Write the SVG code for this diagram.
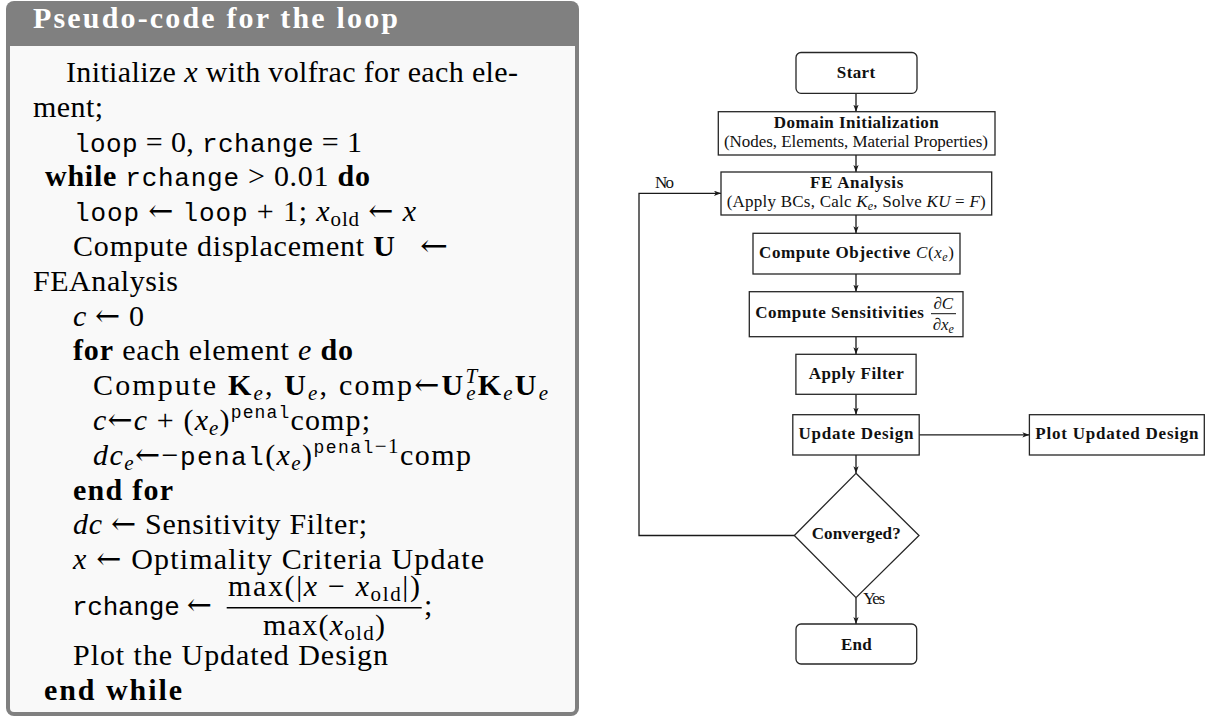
<svg xmlns="http://www.w3.org/2000/svg" width="1209" height="718" viewBox="0 0 1209 718">
<style>
  .rm{font-family:"Liberation Serif","DejaVu Serif",serif;fill:#000}
  .body{font-size:30px}
  .b{font-weight:bold}
  .i{font-style:italic}
  .ar{font-family:"DejaVu Serif",serif;font-style:normal;font-weight:normal}
  .tt{font-family:"Liberation Mono","DejaVu Sans Mono",monospace;font-size:26px}
  .sub{font-size:21px}
  .ttsup{font-family:"Liberation Mono","DejaVu Sans Mono",monospace;font-size:18px}
  .title{font-family:"Liberation Serif","DejaVu Serif",serif;font-size:30px;font-weight:bold;fill:#fff}
  .node{fill:#fff;stroke:#262626;stroke-width:1.3}
  .conn{fill:none;stroke:#1a1a1a;stroke-width:1.3}
  .arr{marker-end:url(#ah)}
  .fc{font-family:"Liberation Serif","DejaVu Serif",serif;font-size:17px;fill:#111}
  .fcs{font-size:12px}
</style>
<defs>
  <marker id="ah" viewBox="0 0 8 6" refX="8" refY="3" markerWidth="7" markerHeight="5.5" orient="auto" markerUnits="userSpaceOnUse">
    <path d="M0,0 L8,3 L0,6 L2,3 z" fill="#1a1a1a"/>
  </marker>
</defs>
<rect width="1209" height="718" fill="#fff"/>

<!-- Left pseudo-code box -->
<g id="pseudocode">
  <rect x="6" y="1" width="573" height="715" rx="8" fill="#808080"/>
  <path d="M10,46 H575 V708 A4,4 0 0 1 571,712 H14 A4,4 0 0 1 10,708 Z" fill="#f9f9f9"/>
  <text class="title" x="33" y="28" textLength="365" lengthAdjust="spacing">Pseudo-code for the loop</text>

  <text class="rm body" x="66" y="82" textLength="452" lengthAdjust="spacing">Initialize <tspan class="i">x</tspan> with volfrac for each ele-</text>
  <text class="rm body" x="33" y="116.8" textLength="70" lengthAdjust="spacing">ment;</text>
  <text class="rm body" x="74" y="151.6" textLength="288" lengthAdjust="spacing"><tspan class="tt">loop</tspan> = 0, <tspan class="tt">rchange</tspan> = 1</text>
  <text class="rm body" x="45" y="186.4" textLength="325" lengthAdjust="spacing"><tspan class="b">while</tspan> <tspan class="tt">rchange</tspan> &gt; 0.01 <tspan class="b">do</tspan></text>
  <text class="rm body" x="74" y="221.2" textLength="342" lengthAdjust="spacing"><tspan class="tt">loop</tspan> <tspan class="ar">←</tspan> <tspan class="tt">loop</tspan> + 1; <tspan class="i">x</tspan><tspan class="sub" dy="5">old</tspan><tspan dy="-5"> </tspan><tspan class="ar">←</tspan> <tspan class="i">x</tspan></text>
  <text class="rm body" x="73" y="256" textLength="322" lengthAdjust="spacing">Compute displacement <tspan class="b">U</tspan></text>
  <text class="rm body ar" x="420" y="256" textLength="28" lengthAdjust="spacingAndGlyphs">←</text>
  <text class="rm body" x="33" y="290.8" textLength="145" lengthAdjust="spacing">FEAnalysis</text>
  <text class="rm body" x="73" y="325.6" textLength="71" lengthAdjust="spacing"><tspan class="i">c</tspan> <tspan class="ar">←</tspan> 0</text>
  <text class="rm body" x="73" y="360.4" textLength="280" lengthAdjust="spacing"><tspan class="b">for</tspan> each element <tspan class="i">e</tspan> <tspan class="b">do</tspan></text>
  <text class="rm body" x="93" y="395.2" textLength="455" lengthAdjust="spacing">Compute <tspan class="b">K</tspan><tspan class="i sub" dy="5">e</tspan><tspan dy="-5">, </tspan><tspan class="b">U</tspan><tspan class="i sub" dy="5">e</tspan><tspan dy="-5">, comp</tspan><tspan class="ar">←</tspan><tspan class="b">U</tspan><tspan class="i sub" dy="-12">T</tspan><tspan class="i sub" dx="-11" dy="17">e</tspan><tspan class="b" dy="-5">K</tspan><tspan class="i sub" dy="5">e</tspan><tspan class="b" dy="-5">U</tspan><tspan class="i sub" dy="5">e</tspan></text>
  <text class="rm body" x="93" y="430" textLength="277" lengthAdjust="spacing"><tspan class="i">c</tspan><tspan class="ar">←</tspan><tspan class="i">c</tspan> + (<tspan class="i">x</tspan><tspan class="i sub" dy="5">e</tspan><tspan dy="-5">)</tspan><tspan class="ttsup" dy="-12">penal</tspan><tspan dy="12">comp;</tspan></text>
  <text class="rm body" x="93" y="464.8" textLength="378" lengthAdjust="spacing"><tspan class="i">dc</tspan><tspan class="i sub" dy="5">e</tspan><tspan class="ar" dy="-5">←</tspan>−<tspan class="tt">penal</tspan>(<tspan class="i">x</tspan><tspan class="i sub" dy="5">e</tspan><tspan dy="-5">)</tspan><tspan class="ttsup" dy="-12">penal</tspan><tspan class="sub">−1</tspan><tspan dy="12">comp</tspan></text>
  <text class="rm body b" x="73" y="499.6" textLength="100" lengthAdjust="spacing">end for</text>
  <text class="rm body" x="73" y="534.4" textLength="294" lengthAdjust="spacing"><tspan class="i">dc</tspan> <tspan class="ar">←</tspan> Sensitivity Filter;</text>
  <text class="rm body" x="73" y="569.2" textLength="411" lengthAdjust="spacing"><tspan class="i">x</tspan> <tspan class="ar">←</tspan> Optimality Criteria Update</text>
  <text class="rm body" x="72" y="615" textLength="140" lengthAdjust="spacing"><tspan class="tt">rchange</tspan> <tspan class="ar">←</tspan></text>
  <text class="rm body" x="228" y="596" textLength="192" lengthAdjust="spacing">max(|<tspan class="i">x</tspan> − <tspan class="i">x</tspan><tspan class="sub" dy="5">old</tspan><tspan dy="-5">|)</tspan></text>
  <line x1="226.7" y1="607.7" x2="421.7" y2="607.7" stroke="#000" stroke-width="1.4"/>
  <text class="rm body" x="263" y="635" textLength="122" lengthAdjust="spacing">max(<tspan class="i">x</tspan><tspan class="sub" dy="5">old</tspan><tspan dy="-5">)</tspan></text>
  <text class="rm body" x="424" y="615">;</text>
  <text class="rm body" x="73" y="664.7" textLength="315" lengthAdjust="spacing">Plot the Updated Design</text>
  <text class="rm body b" x="44" y="699.5" textLength="138" lengthAdjust="spacing">end while</text>
</g>

<!-- Connectors -->
<g id="connectors">
  <line class="conn arr" x1="856" y1="93.3" x2="856" y2="111.7"/>
  <line class="conn arr" x1="856" y1="155" x2="856" y2="172"/>
  <line class="conn arr" x1="856" y1="215" x2="856" y2="233.3"/>
  <line class="conn arr" x1="856" y1="274" x2="856" y2="291.7"/>
  <line class="conn arr" x1="856" y1="336.7" x2="856" y2="354.3"/>
  <line class="conn arr" x1="856" y1="394.3" x2="856" y2="414.7"/>
  <line class="conn arr" x1="856" y1="455" x2="856" y2="473.3"/>
  <line class="conn arr" x1="856" y1="597.7" x2="856" y2="624"/>
  <line class="conn arr" x1="919.2" y1="434.8" x2="1029.4" y2="434.8"/>
  <polyline class="conn arr" points="794.3,535.5 639,535.5 639,193.3 721,193.3"/>
  <text class="fc" x="655" y="188.3" font-size="15.5" textLength="19" lengthAdjust="spacing">No</text>
  <text class="fc" x="863.3" y="604" font-size="14" textLength="21.7" lengthAdjust="spacing">Yes</text>
</g>

<!-- Nodes -->
<g id="start">
  <rect class="node" x="796" y="52.5" width="121" height="40.8" rx="5"/>
  <text class="fc b" x="856" y="77.5" text-anchor="middle" textLength="38.3" lengthAdjust="spacing">Start</text>
</g>
<g id="domain-init">
  <rect class="node" x="718.3" y="111.7" width="276.7" height="43.3"/>
  <text class="fc b" x="856.3" y="128.3" text-anchor="middle" textLength="165" lengthAdjust="spacing">Domain Initialization</text>
  <text class="fc" x="856" y="147.3" text-anchor="middle" textLength="264" lengthAdjust="spacing">(Nodes, Elements, Material Properties)</text>
</g>
<g id="fe-analysis">
  <rect class="node" x="721" y="172" width="270.7" height="43"/>
  <text class="fc b" x="856.7" y="188.3" text-anchor="middle" textLength="93.3" lengthAdjust="spacing">FE Analysis</text>
  <text class="fc" x="726.7" y="206.7" textLength="259" lengthAdjust="spacing">(Apply BCs, Calc <tspan class="i">K</tspan><tspan class="fcs i" dy="3">e</tspan><tspan dy="-3">, Solve </tspan><tspan class="i">KU</tspan> = <tspan class="i">F</tspan>)</text>
</g>
<g id="objective">
  <rect class="node" x="753" y="233.3" width="207" height="40.7"/>
  <text class="fc" x="759" y="258.3" textLength="195" lengthAdjust="spacing"><tspan class="b">Compute Objective</tspan> <tspan class="i">C</tspan>(<tspan class="i">x</tspan><tspan class="fcs i" dy="3">e</tspan><tspan dy="-3">)</tspan></text>
</g>
<g id="sensitivities">
  <rect class="node" x="749.3" y="291.7" width="213.7" height="45"/>
  <text class="fc b" x="755.2" y="318.3" textLength="168.7" lengthAdjust="spacing">Compute Sensitivities</text>
  <text class="fc" x="943.3" y="309" text-anchor="middle">∂<tspan class="i">C</tspan></text>
  <line x1="931" y1="313.7" x2="956" y2="313.7" stroke="#111" stroke-width="1"/>
  <text class="fc" x="943.3" y="330" text-anchor="middle">∂<tspan class="i">x</tspan><tspan class="fcs i" dy="3">e</tspan></text>
</g>
<g id="apply-filter">
  <rect class="node" x="795.9" y="354.3" width="120.2" height="40"/>
  <text class="fc b" x="856.2" y="379.3" text-anchor="middle" textLength="95" lengthAdjust="spacing">Apply Filter</text>
</g>
<g id="update-design">
  <rect class="node" x="792.8" y="414.7" width="126.4" height="40.3"/>
  <text class="fc b" x="856" y="439.3" text-anchor="middle" textLength="114.8" lengthAdjust="spacing">Update Design</text>
</g>
<g id="plot-updated-design">
  <rect class="node" x="1029.4" y="414.7" width="174.9" height="40.3"/>
  <text class="fc b" x="1116.9" y="439.3" text-anchor="middle" textLength="163.3" lengthAdjust="spacing">Plot Updated Design</text>
</g>
<g id="converged">
  <polygon class="node" points="856,473.3 919,535.5 856,597.7 794.3,535.5"/>
  <text class="fc b" x="856.2" y="539" text-anchor="middle" textLength="89" lengthAdjust="spacing">Converged?</text>
</g>
<g id="end">
  <rect class="node" x="796" y="624" width="120.7" height="40" rx="5"/>
  <text class="fc b" x="856.3" y="650" text-anchor="middle" textLength="30.7" lengthAdjust="spacing">End</text>
</g>
</svg>
